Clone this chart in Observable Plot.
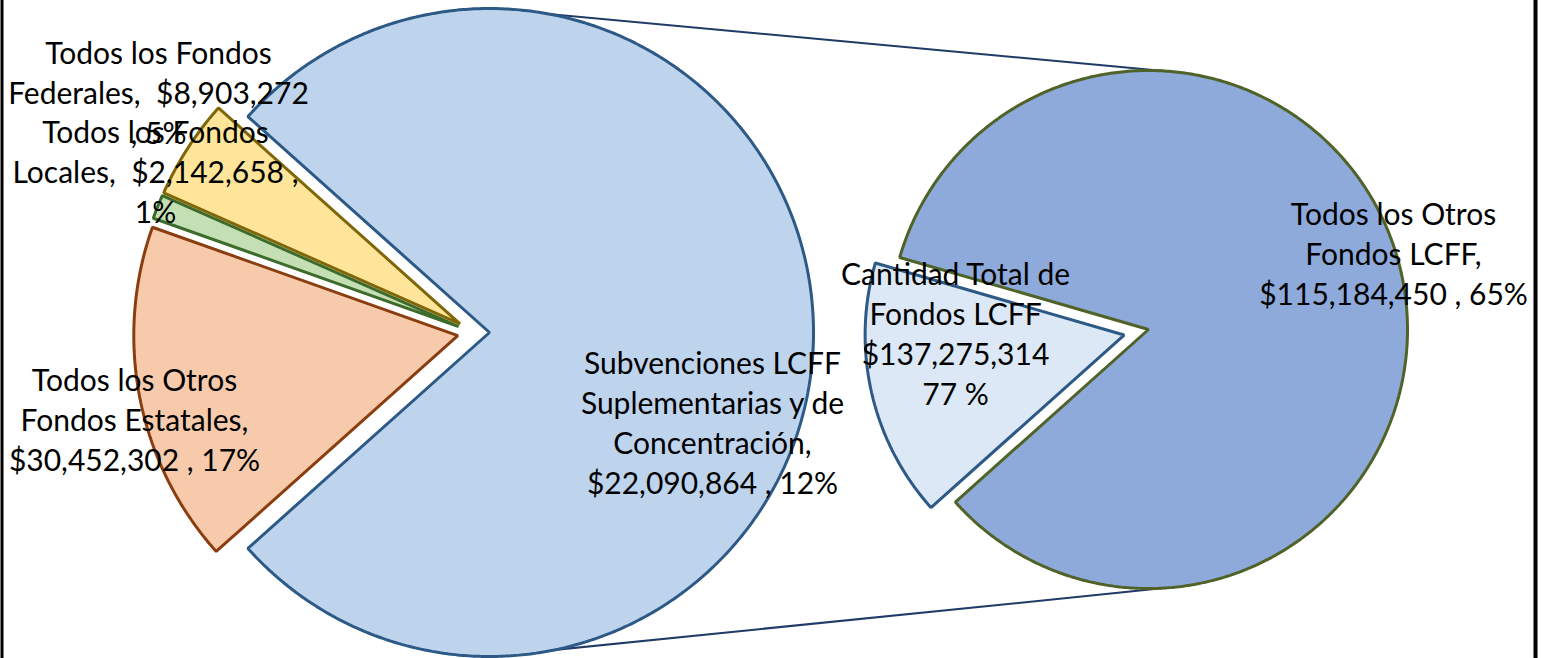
<!DOCTYPE html>
<html><head><meta charset="utf-8">
<script src="https://cdn.jsdelivr.net/npm/d3@7"></script>
<script src="https://cdn.jsdelivr.net/npm/@observablehq/plot@0.6"></script>
<style>body{margin:0;background:#fff}#chart svg{display:block}</style>
</head><body><div id="chart"></div>
<script>
// ---- data ----
const mainCategories = ["Cantidad Total de Fondos LCFF", "Todos los Otros Fondos Estatales", "Todos los Fondos Locales", "Todos los Fondos Federales"];
const mainValues = [137275314, 30452302, 2142658, 8903272];
const subCategories = ["Subvenciones LCFF Suplementarias y de Concentración", "Todos los Otros Fondos LCFF"];
const subValues = [22090864, 115184450];
const labelTexts = [
  "Todos los Fondos\nFederales,  $8,903,272\n, 5%",
  "Todos los Fondos\nLocales,  $2,142,658 ,\n1%",
  "Todos los Otros\nFondos Estatales,\n$30,452,302 , 17%",
  "Subvenciones LCFF\nSuplementarias y de\nConcentración,\n$22,090,864 , 12%",
  "Cantidad Total de\nFondos LCFF\n$137,275,314\n77 %",
  "Todos los Otros\nFondos LCFF,\n$115,184,450 , 65%"
];

// ---- layout & style ----
const W = 1541, H = 658;
const mainPie = {cx: 473, cy: 332, r: 324, explode: [16, 16, 16, 16]};
const subPie = {cx: 1148, cy: 329, r: 259, explode: [25, 0]};
const mainFill = ["#bed4ed", "#f7caac", "#c4dfb3", "#ffe59a"];
const mainStroke = ["#2c5986", "#8a3e10", "#3d6b2b", "#7f6608"];
const subFill = ["#dce8f5", "#8eaadb"];
const subStroke = ["#2c5986", "#4f6228"];
const labelPos = [[158, 91], [155, 170], [134, 418], [712, 421], [955, 332], [1393, 252]];

const deg = Math.PI / 180;
const mainArcs = d3.pie().sort(null)
  .startAngle(Math.PI / 2 - Math.PI * mainValues[0] / d3.sum(mainValues))
  .endAngle(Math.PI / 2 - Math.PI * mainValues[0] / d3.sum(mainValues) + 2 * Math.PI)(mainValues);
const subStart = mainArcs[0].endAngle - 2 * Math.PI;
const subArcs = d3.pie().sort(null).startAngle(subStart).endAngle(subStart + 2 * Math.PI)(subValues);

function slicePoints(arc, pie, i, key, fill, stroke) {
  const mid = (arc.startAngle + arc.endAngle) / 2;
  const ax = pie.cx + pie.explode[i] * Math.sin(mid);
  const ay = pie.cy - pie.explode[i] * Math.cos(mid);
  const pts = [{key, x: ax, y: ay, fill, stroke}];
  const n = Math.max(2, Math.ceil((arc.endAngle - arc.startAngle) / (0.5 * deg)));
  for (let k = 0; k <= n; k++) {
    const a = arc.startAngle + (arc.endAngle - arc.startAngle) * k / n;
    pts.push({key, x: ax + pie.r * Math.sin(a), y: ay - pie.r * Math.cos(a), fill, stroke});
  }
  return pts;
}
const pts = [
  ...mainArcs.flatMap((a, i) => slicePoints(a, mainPie, i, mainCategories[i], mainFill[i], mainStroke[i])),
  ...subArcs.flatMap((a, i) => slicePoints(a, subPie, i, subCategories[i], subFill[i], subStroke[i]))
];

// connector lines: big slice top/bottom to secondary pie top/bottom
const bigMid = (mainArcs[0].startAngle + mainArcs[0].endAngle) / 2;
const bx = mainPie.cx + mainPie.explode[0] * Math.sin(bigMid);
const by = mainPie.cy - mainPie.explode[0] * Math.cos(bigMid);
const conn = [
  {k: "top", x: bx, y: by - mainPie.r}, {k: "top", x: subPie.cx + subPie.r * Math.sin(4 * deg), y: subPie.cy - subPie.r * Math.cos(4 * deg)},
  {k: "bot", x: bx, y: by + mainPie.r}, {k: "bot", x: subPie.cx + subPie.r * Math.sin(176 * deg), y: subPie.cy - subPie.r * Math.cos(176 * deg)}
];

const labels = labelTexts.map((t, i) => ({text: t, x: labelPos[i][0], y: labelPos[i][1]}));

const chart = Plot.plot({
  width: W, height: H, margin: 0,
  x: {domain: [0, W], range: [0, W], axis: null},
  y: {domain: [0, H], range: [0, H], axis: null},
  color: {type: "identity"},
  marks: [
    Plot.line(conn, {x: "x", y: "y", z: "k", stroke: "#1f3b66", strokeWidth: 2}),
    Plot.line(pts, {x: "x", y: "y", z: "key", fill: "fill", stroke: "stroke", strokeWidth: 3, curve: "linear-closed", strokeLinejoin: "miter"}),
    Plot.text(labels, {x: "x", y: "y", text: "text", fontSize: 30, lineHeight: 1.33, fontFamily: "Lato", fill: "#000"}),
    Plot.ruleX([1.5], {stroke: "#000", strokeWidth: 3}),
    Plot.ruleX([1535], {stroke: "#000", strokeWidth: 4})
  ]
});
document.getElementById("chart").append(chart);
</script>
</body></html>
